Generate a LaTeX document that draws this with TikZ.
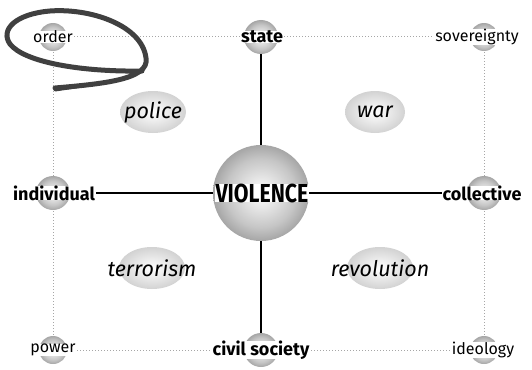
\documentclass[tikz,border=0pt]{standalone}
\usepackage{fontspec}
\setmainfont{Fira Sans}
\newfontfamily\condbold[FakeStretch=0.82]{Fira Sans Bold}
\usetikzlibrary{shapes.geometric}
\pgfdeclareradialshading{spheregray}{\pgfpoint{0bp}{0bp}}{%
  color(0bp)=(white); color(8bp)=(gray!20); color(18bp)=(gray!45); color(25bp)=(gray!70); color(50bp)=(gray!70)}
\begin{document}
\begin{tikzpicture}[x=1pt,y=-1pt,
  dotline/.style={draw=gray!70,dotted,line width=1pt},
  solidline/.style={draw=black,line width=1.3pt},
  sphere/.style={shading=spheregray},
  lbl/.style={fill=white,inner xsep=1pt,inner ysep=0pt,font=\fontsize{16}{16}\selectfont},
  blbl/.style={lbl,font=\fontsize{18}{18}\selectfont\bfseries},
  ilbl/.style={font=\fontsize{21.5}{21.5}\selectfont\itshape},
  blob/.style={ellipse,minimum width=66pt,minimum height=42pt,shading=radial,inner color=white,outer color=gray!35}
]
\useasboundingbox (0,0) rectangle (532,369);
% coordinates
\coordinate (o) at (53,37);
\coordinate (s) at (261,37);
\coordinate (sv) at (484,37);
\coordinate (i) at (53,193);
\coordinate (v) at (261,193);
\coordinate (c) at (484,193);
\coordinate (p) at (53,350);
\coordinate (cs) at (261,350);
\coordinate (id) at (484,350);
% lines
\draw[dotline] (o) -- (s) -- (sv);
\draw[dotline] (p) -- (cs) -- (id);
\draw[dotline] (o) -- (i) -- (p);
\draw[dotline] (sv) -- (c) -- (id);
\draw[solidline] (i) -- (c);
\draw[solidline] (s) -- (cs);
% spheres
\shade[sphere] (v) circle[radius=48];
\foreach \q in {s,i,c,cs}
  \shade[sphere] (\q) circle[radius=17];
\foreach \q in {o,sv,p,id}
  \shade[sphere] (\q) circle[radius=14];
% labels
\node[lbl] (order) at (53,37) {order};
\node[blbl] (state) at (262,37) {state};
\node[lbl] (sovereignty) at (477,37) {sovereignty};
\node[blbl] (individual) at (54,193) {individual};
\node[fill=white,inner xsep=1pt,inner ysep=0pt,font=\fontsize{26}{26}\condbold] (violence) at (262,193) {VIOLENCE};
\node[blbl] (collective) at (482,193) {collective};
\node[lbl] (power) at (53,350) {power};
\node[blbl] (civil) at (261,350) {civil society};
\node[lbl] (ideology) at (483,350) {ideology};
% blobs
\node[blob] (police) at (153,112) {};
\node[ilbl] at (police) {police};
\node[blob,minimum width=60pt] (war) at (375,112) {};
\node[ilbl] at (war) {war};
\node[blob] (terror) at (152,268) {};
\node[ilbl] at (terror) {terrorism};
\node[blob] (rev) at (380,268) {};
\node[ilbl] at (rev) {revolution};
% brush stroke
\draw[line width=5pt,color=black!75,line cap=round]
  (55,88) .. controls (100,84) and (150,80) .. (146,58)
  .. controls (142,25) and (90,8) .. (50,11)
  .. controls (15,14) and (0,30) .. (10,44)
  .. controls (24,62) and (80,72) .. (142,71);
\draw[line width=3pt,color=black!75,line cap=round]
  (55,90) -- (110,82);
\end{tikzpicture}
\end{document}
